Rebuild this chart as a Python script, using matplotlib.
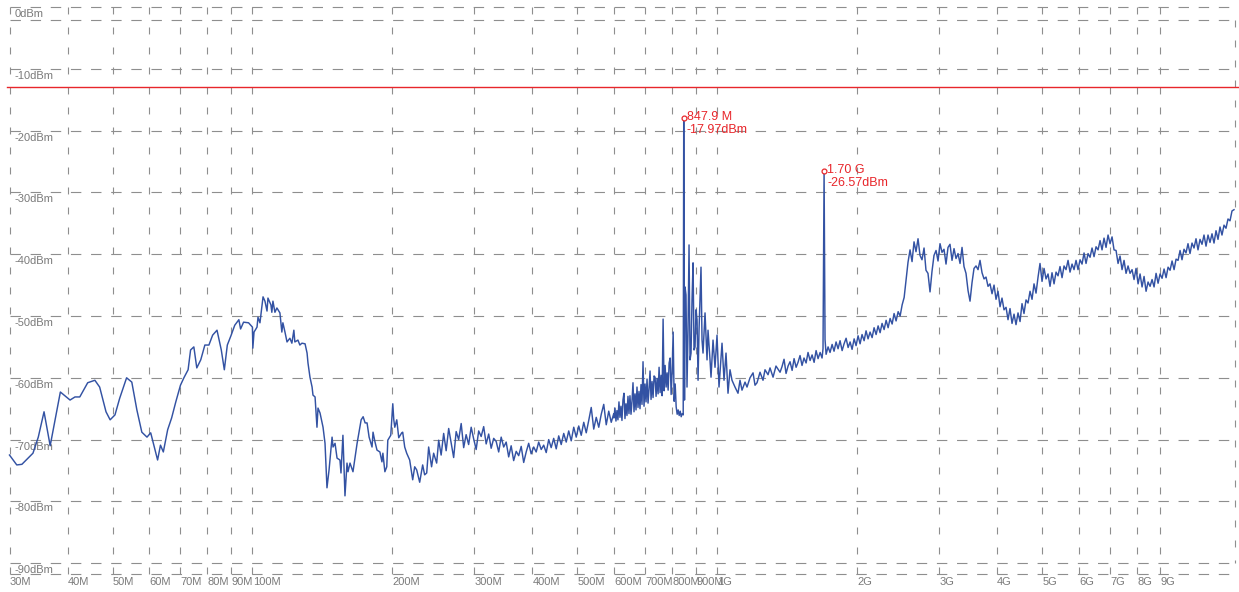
import matplotlib
matplotlib.use('Agg')
from matplotlib import pyplot as plt
import numpy as np

plt.rcParams['font.family'] = ['Liberation Sans', 'DejaVu Sans']
plt.rcParams['lines.scale_dashes'] = False

# spectrum trace, (MHz, dBm)
trace_low = [
    (30, -72.5), (31.1, -74.1), (31.9, -74.0), (33.7, -72.2), (34.6, -69.6), (35.6, -65.5),
    (36.7, -71.0), (38.6, -62.3), (40.5, -63.6), (41.5, -63.1), (42.5, -63.1), (44.2, -60.8),
    (45.8, -60.4), (46.9, -61.5), (48.4, -65.5), (49.4, -66.8), (50.6, -66.0), (51.8, -63.3),
    (53.6, -60.0), (55.0, -60.7), (56.4, -65.2), (57.8, -68.8), (59.3, -69.6), (60.4, -68.9),
    (61.6, -71.4), (62.5, -73.3), (63.4, -70.9), (64.3, -72.0), (65.7, -68.4), (67.0, -66.5),
    (68.4, -63.9), (70.0, -61.2), (71.2, -60.0), (72.7, -58.7), (73.6, -55.5), (74.8, -55.0),
    (75.9, -58.4), (77.4, -57.1), (79.0, -54.7), (80.6, -54.7), (82.1, -53.1), (83.9, -52.3),
    (85.7, -55.5), (87.0, -58.7), (88.3, -54.7), (90.0, -53.1), (91.6, -51.5), (93.5, -50.6),
]

trace_vhf = [
    (94.3, -52.1), (95.7, -51.0), (98.1, -51.1), (100.0, -51.8), (100.2, -55.2), (100.8, -52.6),
    (102.3, -51.8), (102.8, -50.2), (103.8, -51.1), (105.4, -46.9), (106.4, -47.6), (107.5, -49.2),
    (108.0, -47.1), (109.6, -48.2), (110.1, -49.4), (110.7, -47.6), (111.8, -49.4), (112.9, -48.7),
    (114.6, -49.5), (115.7, -52.6), (116.3, -51.1), (117.5, -52.6), (118.7, -54.2), (120.4, -53.6),
    (121.6, -54.4), (122.8, -52.3), (123.4, -54.2), (125.3, -53.9), (126.5, -54.7), (127.8, -54.4),
    (129.8, -54.5), (131.1, -56.0), (131.7, -57.6), (133.0, -59.9), (134.4, -61.5), (135.0, -62.8),
    (136.4, -63.1), (137.7, -68.0), (138.4, -64.9), (139.8, -65.7), (141.9, -68.0), (143.3, -70.6),
    (144.7, -77.8), (146.2, -74.9), (148.4, -69.6), (149.1, -71.2), (150.6, -70.6), (152.1, -73.0),
    (154.3, -73.3), (155.1, -75.4), (156.6, -69.3), (157.4, -74.4), (158.2, -79.1), (159.8, -73.8),
    (160.6, -75.2), (162.2, -73.8), (164.6, -75.2), (168.0, -70.6), (171.4, -66.8), (173.1, -66.3),
    (174.8, -67.3), (176.5, -67.3), (178.3, -69.6), (180.9, -71.2), (181.8, -68.8), (183.6, -70.4),
    (185.4, -71.7), (188.1, -72.0), (190.0, -73.6), (190.9, -72.2), (192.8, -75.2), (194.6, -74.4),
    (195.6, -70.1), (198.5, -69.3), (200.5, -64.2), (201.5, -66.8), (202.5, -68.0), (204.5, -66.8),
    (206.5, -69.7), (209.6, -68.9), (210.6, -68.8), (212.7, -71.2), (214.8, -72.2), (218.0, -73.3),
    (221.3, -76.5), (223.5, -74.4), (225.7, -74.9), (229.1, -76.9), (232.5, -74.1), (234.8, -75.7),
    (237.2, -75.4), (239.5, -71.2), (243.0, -74.4), (245.5, -72.2), (249.2, -73.8), (251.7, -70.1),
]

trace_uhf = [
    (254.8, -72.5), (258.0, -69.0), (261.2, -71.8), (264.5, -68.2), (267.8, -70.6), (271.1, -72.9),
    (274.5, -68.7), (277.9, -70.0), (281.4, -67.4), (284.9, -71.3), (288.4, -69.2), (292.0, -70.8),
    (295.7, -68.0), (299.4, -69.9), (303.1, -71.6), (306.9, -68.6), (310.7, -69.5), (314.6, -67.9),
    (318.5, -70.7), (322.5, -69.1), (326.5, -71.4), (330.6, -69.8), (334.7, -70.3), (338.9, -72.0),
    (343.1, -69.6), (347.4, -71.2), (351.7, -70.4), (356.1, -72.8), (360.5, -71.0), (365.0, -73.4),
    (369.6, -71.9), (374.2, -72.6), (378.9, -71.1), (383.6, -73.7), (388.4, -72.0), (393.2, -70.6),
    (398.1, -72.3), (403.1, -71.2), (408.1, -72.0), (413.2, -70.4), (418.4, -71.6), (423.6, -70.9),
    (428.9, -72.1), (434.2, -70.0), (439.6, -71.3), (445.1, -69.8), (450.7, -71.5), (456.3, -69.4),
    (462.0, -70.8), (467.8, -69.0), (473.6, -70.4), (479.5, -68.6), (485.5, -70.2), (491.6, -68.0),
    (497.7, -69.6), (503.9, -67.8), (510.2, -69.3), (516.6, -67.2), (523.0, -68.9), (529.5, -66.9),
    (536.1, -64.8), (542.8, -68.3), (549.6, -66.4), (556.5, -68.0), (563.4, -65.9), (570.4, -64.3),
    (577.5, -67.6), (584.7, -65.4), (592.0, -67.2), (599.4, -65.8),
]

trace_spurs = [
    (600.0, -66.5), (603.0, -64.9), (606.0, -67.0), (609.0, -65.3), (612.0, -66.8), (615.1, -63.9),
    (618.1, -66.4), (621.2, -64.6), (624.3, -66.9), (627.4, -63.6), (630.5, -62.5), (633.7, -66.6),
    (636.8, -64.2), (640.0, -66.1), (643.2, -63.0), (646.4, -65.8), (649.6, -62.9), (652.9, -65.9),
    (656.1, -63.8), (659.4, -60.8), (662.7, -65.5), (666.0, -62.6), (669.3, -65.2), (672.6, -61.5),
    (676.0, -64.8), (679.3, -62.2), (682.7, -65.0), (686.1, -61.1), (689.5, -64.3), (693.0, -57.4),
    (696.4, -64.6), (699.9, -61.0), (703.4, -63.9), (706.9, -60.2), (710.4, -64.1), (714.0, -61.8),
    (717.5, -58.9), (721.1, -63.5), (724.7, -60.6), (728.3, -63.2), (732.0, -59.7), (735.6, -59.9),
    (739.3, -63.0), (743.0, -60.1), (746.7, -62.6), (750.4, -58.3), (754.2, -62.4), (757.9, -59.6),
    (761.7, -62.9), (765.5, -50.5), (769.3, -62.1), (773.2, -58.0), (777.0, -61.5), (780.9, -59.2),
    (784.8, -62.0), (788.7, -57.6), (792.7, -56.8), (796.6, -62.7), (800.6, -59.0), (804.6, -52.6),
    (808.6, -63.8), (812.7, -61.0), (816.7, -64.7), (820.8, -65.9), (824.9, -65.2), (829.0, -66.1),
    (833.2, -65.4), (837.3, -66.3), (841.5, -65.8), (845.7, -66.0), (847.9, -17.97), (851.2, -63.6),
    (853.3, -45.3), (857.5, -46.6), (861.8, -61.5), (866.1, -52.3), (870.5, -38.5), (874.8, -57.1),
    (879.2, -56.0), (883.5, -47.4), (888.0, -41.4), (892.3, -55.5), (896.8, -55.0), (901.2, -49.0),
    (905.8, -50.6), (910.3, -60.4), (914.7, -52.3), (923.7, -42.1), (928.4, -53.9), (933.0, -56.0),
    (942.3, -49.5), (951.7, -57.1), (956.4, -52.3), (965.9, -57.1), (970.7, -59.9), (980.4, -53.9),
    (990.1, -58.3), (1000, -53.1), (1009.9, -61.5), (1025.1, -54.4), (1035.3, -60.4),
    (1045.6, -56.0), (1056.0, -62.5), (1066.5, -58.7), (1077.1, -60.4), (1093.3, -61.5),
    (1109.6, -62.5), (1120.7, -60.4), (1131.8, -62.0), (1148.9, -60.7), (1160.3, -61.5),
    (1177.6, -60.0), (1195.5, -59.2), (1207.2, -61.2), (1219.3, -60.8), (1237.5, -59.1),
    (1256.0, -60.4), (1268.5, -58.7), (1287.7, -59.5), (1300.4, -58.4), (1320.1, -59.9),
    (1339.5, -58.1), (1366.7, -59.1),
]

trace_lband = [
    (1380, -58.2), (1394, -57.0), (1408, -59.3), (1422, -58.1), (1436, -57.4), (1451, -58.8),
    (1465, -56.9), (1480, -58.3), (1494, -57.5), (1509, -56.4), (1524, -58.0), (1539, -56.8),
    (1555, -57.6), (1570, -55.9), (1586, -57.2), (1602, -56.3), (1618, -57.5), (1634, -55.6),
    (1650, -56.9), (1667, -55.9), (1683, -56.8), (1691, -55.3), (1700, -26.57), (1708, -53.8),
    (1717, -56.2), (1734, -55.0), (1751, -55.9), (1769, -54.6), (1786, -55.7), (1804, -54.2),
    (1822, -55.3), (1840, -54.0), (1859, -55.6), (1877, -54.5), (1896, -53.6), (1915, -55.1),
    (1934, -54.2), (1953, -55.4), (1973, -53.7), (1992, -54.8), (2012, -53.2), (2032, -54.5),
    (2052, -53.0), (2073, -54.0), (2093, -52.4), (2114, -53.7), (2135, -52.6), (2157, -53.5),
    (2178, -51.9), (2200, -53.0), (2222, -51.6), (2244, -52.7), (2266, -51.2), (2289, -52.2),
    (2312, -50.7), (2335, -51.9), (2358, -50.4), (2382, -51.3), (2405, -49.6), (2429, -50.8),
    (2454, -49.3), (2478, -50.0), (2503, -48.2), (2528, -47.0),
]

trace_high = [
    (2552, -44.2), (2577, -41.3), (2603, -39.3), (2629, -41.2), (2655, -38.0), (2681, -39.6),
    (2708, -37.5), (2735, -40.2), (2762, -40.9), (2790, -39.0), (2817, -42.6), (2845, -43.1),
    (2874, -46.1), (2902, -42.8), (2931, -40.2), (2961, -39.4), (2990, -41.1), (3020, -38.3),
    (3050, -39.7), (3080, -39.2), (3111, -41.6), (3142, -38.9), (3173, -38.4), (3205, -41.0),
    (3237, -39.1), (3269, -40.7), (3302, -39.9), (3335, -41.5), (3368, -38.9), (3401, -42.0),
    (3435, -43.1), (3470, -45.9), (3504, -47.6), (3539, -44.6), (3574, -42.3), (3610, -41.9),
    (3646, -42.5), (3682, -41.0), (3719, -43.0), (3756, -44.0), (3793, -43.7), (3831, -45.2),
    (3869, -44.8), (3908, -46.4), (3947, -45.0), (3986, -47.3), (4026, -46.0), (4066, -48.5),
    (4106, -47.1), (4147, -49.0), (4189, -48.6), (4230, -50.6), (4272, -48.8), (4315, -51.2),
    (4358, -49.7), (4401, -51.4), (4445, -49.5), (4490, -50.9), (4534, -48.0), (4579, -49.6),
    (4625, -47.4), (4671, -47.9), (4718, -46.0), (4765, -47.3), (4812, -44.8), (4860, -46.3),
    (4909, -43.7), (4957, -41.5), (5007, -44.4), (5057, -42.3), (5107, -44.0), (5158, -43.2),
    (5209, -45.2), (5261, -43.0), (5314, -44.8), (5367, -42.9), (5420, -43.5), (5474, -42.0),
    (5529, -43.8), (5584, -41.9), (5639, -42.5), (5696, -41.0), (5752, -42.9), (5810, -41.6),
    (5867, -42.5), (5926, -41.0), (5985, -42.5), (6045, -40.9), (6105, -41.6), (6166, -39.8),
    (6227, -41.5), (6289, -39.9), (6352, -40.5), (6415, -39.0), (6479, -40.4), (6544, -38.8),
    (6609, -39.3), (6675, -37.8), (6741, -39.3), (6808, -37.4), (6876, -38.9), (6945, -36.9),
    (7014, -38.3), (7084, -37.2), (7154, -39.3), (7226, -39.4), (7298, -41.5), (7370, -40.3),
    (7444, -42.5), (7518, -41.0), (7593, -43.1), (7669, -41.9), (7745, -43.1), (7822, -42.5),
    (7900, -44.1), (7979, -42.3), (8059, -44.8), (8139, -43.2), (8220, -45.3), (8302, -43.6),
    (8385, -46.0), (8468, -44.5), (8553, -45.2), (8638, -44.1), (8724, -45.3), (8811, -43.1),
    (8899, -44.7), (8987, -43.2), (9077, -43.9), (9167, -42.4), (9259, -43.8), (9351, -42.1),
    (9444, -42.6), (9538, -41.1), (9633, -42.5), (9729, -40.8), (9826, -41.0), (9924, -39.4),
    (10020, -40.9), (10120, -39.2), (10220, -39.8), (10322, -38.3), (10425, -39.9), (10529, -38.2),
    (10634, -39.0), (10740, -37.5), (10847, -39.3), (10955, -37.6), (11064, -38.4), (11174, -36.9),
    (11286, -38.7), (11398, -36.9), (11511, -38.1), (11626, -36.7), (11742, -38.2), (11859, -36.2),
    (11977, -37.6), (12096, -35.6), (12216, -36.9), (12338, -35.3), (12461, -35.8), (12585, -34.3),
    (12710, -34.6), (12837, -33.0), (12964, -32.8),
]

marker_freq = [847.9, 1700.0]
marker_level = [-17.97, -26.57]
marker_freq_text = ['847.9 M', '1.70 G']
marker_level_text = ['-17.97dBm', '-26.57dBm']

limit_level = -13.0

x_ticks = [30, 40, 50, 60, 70, 80, 90,
           100, 200, 300, 400, 500, 600, 700, 800, 900,
           1000, 2000, 3000, 4000, 5000, 6000, 7000, 8000, 9000]
x_tick_labels = ['30M', '40M', '50M', '60M', '70M', '80M', '90M',
                 '100M', '200M', '300M', '400M', '500M', '600M', '700M', '800M', '900M',
                 '1G', '2G', '3G', '4G', '5G', '6G', '7G', '8G', '9G']
y_levels = [0, -10, -20, -30, -40, -50, -60, -70, -80, -90]
y_labels = ['0dBm', '-10dBm', '-20dBm', '-30dBm', '-40dBm', '-50dBm',
            '-60dBm', '-70dBm', '-80dBm', '-90dBm']

f_start, f_stop = 30, 13000
frame_top, frame_bottom = -2.1, -91.7

TRACE = '#3352a3'
RED = '#e8262b'
GRID = '#8e8e8e'
LABEL = '#7a7a7a'

trace = trace_low + trace_vhf + trace_uhf + trace_spurs + trace_lband + trace_high
freq = np.array([p[0] for p in trace])
level = np.array([p[1] for p in trace])

fig = plt.figure(figsize=(12.39, 5.92), dpi=100)
ax = fig.add_axes([0, 0, 1, 1])
ax.set_xscale('log')
ax.set_xlim(28.62, 13290)
ax.set_ylim(-94.66, 1.13)
ax.set_axis_off()

# grid, drawn by hand so the dash pattern matches the analyzer screen
for lv in y_levels + [frame_top, frame_bottom]:
    ax.plot([f_start, f_stop], [lv, lv], color=GRID, lw=0.8, dashes=(7.5, 7.0), zorder=1)
for f in x_ticks:
    ax.plot([f, f], [0, frame_bottom], color=GRID, lw=0.8, dashes=(5, 9.4), zorder=1)
ax.plot([f_stop, f_stop], [frame_top, -90], color=GRID, lw=0.8, dashes=(5, 9.4), zorder=1)

for lv, lab in zip(y_levels, y_labels):
    ax.annotate(lab, (f_start, lv), xytext=(3.5, -1.5), textcoords='offset points',
                ha='left', va='top', fontsize=8, color=LABEL)
for f, lab in zip(x_ticks, x_tick_labels):
    ax.annotate(lab, (f, frame_bottom), xytext=(0.3, -2.5), textcoords='offset points',
                ha='left', va='top', fontsize=8, color=LABEL)

ax.plot([29.6, 13290], [limit_level, limit_level], color=RED, lw=1.0, zorder=2)

ax.plot(freq, level, color=TRACE, lw=1.05, zorder=3)

ax.plot(marker_freq, marker_level, 'o', ms=3.5, mfc='white', mec=RED, mew=0.9, zorder=4)
for f, lv, t1, t2 in zip(marker_freq, marker_level, marker_freq_text, marker_level_text):
    ax.annotate(t1, (f, lv), xytext=(2.2, 0.5), textcoords='offset points',
                ha='left', va='center', fontsize=9, color=RED, zorder=5)
    ax.annotate(t2, (f, lv), xytext=(2.2, -8.4), textcoords='offset points',
                ha='left', va='center', fontsize=9, color=RED, zorder=5)

fig.savefig('out.png', dpi=100)
